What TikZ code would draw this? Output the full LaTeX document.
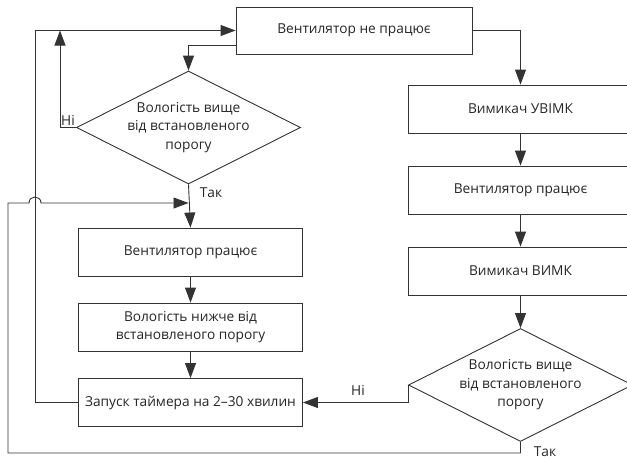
\documentclass[tikz,border=0pt]{standalone}
\usepackage{fontspec}
\setmainfont{Open Sans}
\usetikzlibrary{arrows.meta}
\usetikzlibrary{shapes}

\tikzset{
  block/.style={rectangle,draw=black!80,line width=0.9pt,minimum width=224pt,minimum height=48pt,align=center,text=black!85,font=\fontsize{13.7}{18.5}\selectfont},
  decision/.style={diamond,draw=black!80,line width=0.9pt,aspect=2,inner sep=0pt,minimum width=224pt,minimum height=113pt,align=center,text=black!85,font=\fontsize{13.7}{18.5}\selectfont},
  arr/.style={draw=black!80,line width=0.9pt,-{Triangle[length=15pt,width=11pt]}},
  lbl/.style={text=black!85,font=\fontsize{13.7}{16}\selectfont}
}

\begin{document}
\begin{tikzpicture}[x=1pt,y=-1pt]
          \clip (0,0) rectangle (627,464);
          \begin{scope}[every node/.style={block}]
            \node[minimum width=236pt,minimum height=47pt] (off) at (354,30.5) {Вентилятор не працює};
            \node (onL) at (190.5,252) {Вентилятор працює};
            \node (low) at (190.5,327) {Вологість нижче від\\встановленого порогу};
            \node (timer) at (190.5,402.5) {Запуск таймера на 2–30 хвилин};
            \node (swon) at (520.5,109) {Вимикач УВІМК};
            \node (onR) at (520.5,190) {Вентилятор працює};
            \node (swoff) at (520.5,271) {Вимикач ВИМК};
          \end{scope}
          \begin{scope}[every node/.style={decision}]
            \node (dec1) at (188.5,127.5) {Вологість вище\\від встановленого\\порогу};
            \node (dec2) at (520.5,385) {Вологість вище\\від встановленого\\порогу};
          \end{scope}
          \coordinate (loopA) at (35,0);
          \coordinate (loopB) at (60,30.5);
          \coordinate (loopC) at (8,203);
          \coordinate (loopD) at (520.5,453);
          \begin{scope}[every path/.style={arr}]
            \draw (timer.west) -- (timer.west -| loopA) |- (off.west);
            \draw ([yshift=-15pt]off.west) -| (dec1.north);
            \draw (dec1.west) -| (loopB);
            \draw (dec1.south) -- (onL.north);
            \draw (onL) -- (low);
            \draw (low) -- (timer);
            \draw (off.east) -| (swon.north);
            \draw (swon) -- (onR);
            \draw (onR) -- (swoff);
            \draw (swoff) -- (dec2);
            \draw (dec2.west) |- (timer.east);
            \draw (dec2.south) -- (loopD) -| (loopC) -- (29,203)
              .. controls (29,195) and (41,195) .. (41,203) -- (dec1.south |- loopC);
          \end{scope}
          \node[lbl] (no1) at (68,120) {Ні};
          \node[lbl] (yes1) at (211,193) {Так};
          \node[lbl] (no2) at (358,390) {Ні};
          \node[lbl] (yes2) at (545,452) {Так};
        \end{tikzpicture}
\end{document}
